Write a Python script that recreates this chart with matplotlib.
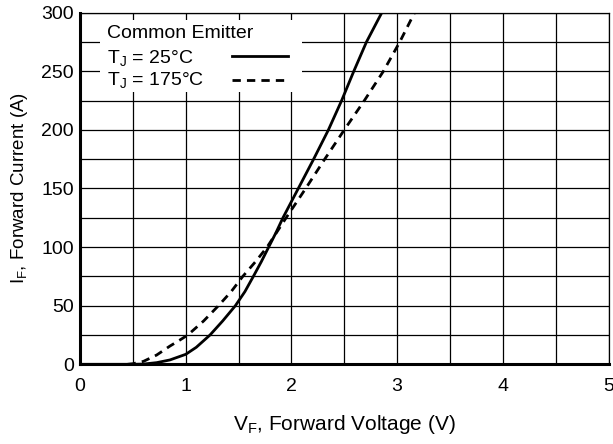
import matplotlib
matplotlib.use("Agg")
import matplotlib.pyplot as plt
from matplotlib.ticker import MultipleLocator
from matplotlib.patches import Rectangle
from matplotlib.lines import Line2D

plt.rcParams['font.family'] = ['Liberation Sans', 'DejaVu Sans']
plt.rcParams['mathtext.default'] = 'regular'

v_25 = [0.0, 0.5, 0.6, 0.725, 0.85, 1.0, 1.1, 1.23, 1.35, 1.47, 1.56, 1.64, 1.715, 1.785, 1.855, 1.92, 2.065, 2.21, 2.35, 2.475, 2.59, 2.71, 2.855]
i_25 = [0.0, 0.0, 0.2, 1.4, 3.7, 8.5, 14.5, 25.0, 37.0, 50.0, 62.0, 75.0, 87.5, 100.0, 112.5, 125.0, 150.0, 175.0, 200.0, 225.0, 250.0, 275.0, 300.0]

v_175 = [0.45, 0.5, 0.6, 0.725, 0.85, 0.95, 1.02, 1.17, 1.31, 1.43, 1.54, 1.66, 1.77, 1.86, 1.95, 2.135, 2.315, 2.50, 2.69, 2.87, 3.025, 3.165]
i_175 = [0.0, 0.5, 2.5, 7.9, 15.5, 21.0, 25.0, 37.0, 50.0, 62.0, 75.0, 87.5, 100.0, 112.5, 125.0, 150.0, 175.0, 200.0, 225.0, 250.0, 275.0, 300.0]

x_ticks = [0, 1, 2, 3, 4, 5]
y_ticks = [0, 50, 100, 150, 200, 250, 300]
legend_title = 'Common Emitter'
legend_labels = ['T$_J$ = 25°C', 'T$_J$ = 175°C']

fig = plt.figure(figsize=(6.13, 4.44), dpi=100)
ax = fig.add_axes([80/613, 79.7/444, 528.5/613, 351.6/444])

ax.plot(v_25, i_25, color='black', lw=2.0, solid_joinstyle='round', zorder=3)
ax.plot(v_175, i_175, color='black', lw=2.0, ls=(0, (3.0, 2.2)), zorder=3)

ax.set_xlim(0, 5)
ax.set_ylim(0, 300)
ax.set_xticks(x_ticks)
ax.set_yticks(y_ticks)
ax.xaxis.set_minor_locator(MultipleLocator(0.5))
ax.yaxis.set_minor_locator(MultipleLocator(25))
ax.grid(True, which='both', color='black', lw=0.9)
ax.set_axisbelow(True)
ax.tick_params(which='both', length=0, labelsize=14)
ax.tick_params(axis='x', pad=10)
ax.tick_params(axis='y', pad=4.5)
for s in ['top', 'right']:
    ax.spines[s].set_linewidth(0.9)
for s in ['left', 'bottom']:
    ax.spines[s].set_linewidth(2.2)

ax.set_xlabel('V$_F$, Forward Voltage (V)', fontsize=15, labelpad=13)
ax.set_ylabel('I$_F$, Forward Current (A)', fontsize=13.5, labelpad=8)

# legend box (manual, to keep labels left-aligned with handles on the right)
def fx(px):
    return (px - 80) / 528.5

def fy(py):
    return (364.3 - py) / 351.6

ax.add_patch(Rectangle((fx(100), fy(92)), fx(302) - fx(100), fy(20) - fy(92),
                       transform=ax.transAxes, facecolor='white', edgecolor='none', zorder=2))
ax.text(fx(107), fy(38.5), legend_title, transform=ax.transAxes, fontsize=14, va='baseline', ha='left', zorder=4)
ax.text(fx(107), fy(62.5), legend_labels[0], transform=ax.transAxes, fontsize=14, va='baseline', ha='left', zorder=4)
ax.text(fx(107), fy(85.5), legend_labels[1], transform=ax.transAxes, fontsize=14, va='baseline', ha='left', zorder=4)
ax.add_line(Line2D([fx(232), fx(288)], [fy(56), fy(56)], transform=ax.transAxes, color='black', lw=2.0, zorder=4))
ax.add_line(Line2D([fx(232), fx(288)], [fy(80), fy(80)], transform=ax.transAxes, color='black', lw=2.0,
                   ls=(0, (3.0, 2.2)), zorder=4))

fig.savefig('out.png', dpi=100)
